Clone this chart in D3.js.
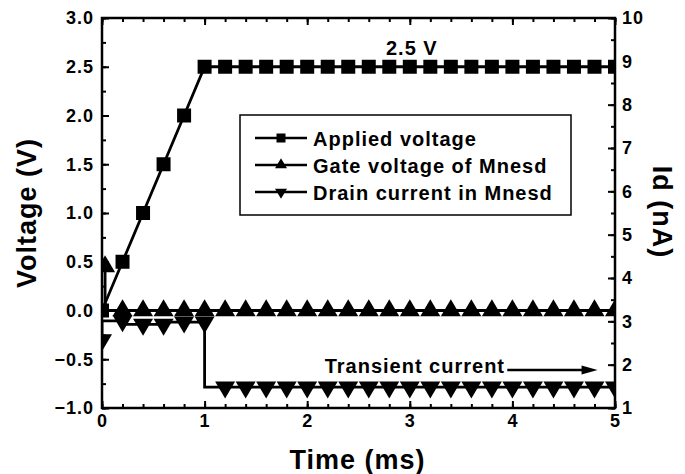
<!DOCTYPE html>
<html>
<head>
<meta charset="utf-8">
<script src="https://cdn.jsdelivr.net/npm/d3@7"></script>
<style>
  body { margin: 0; background: #fff; }
  text { font-family: "Liberation Sans", Arial, sans-serif; font-weight: bold; fill: #000; }
</style>
</head>
<body>
<div id="chart"></div>
<script>
// data
var appliedT = [0, 0.2, 0.4, 0.6, 0.8, 1.0, 1.2, 1.4, 1.6, 1.8, 2.0, 2.2, 2.4, 2.6, 2.8, 3.0, 3.2, 3.4, 3.6, 3.8, 4.0, 4.2, 4.4, 4.6, 4.8, 5.0];
var appliedV = [0, 0.5, 1.0, 1.5, 2.0, 2.5, 2.5, 2.5, 2.5, 2.5, 2.5, 2.5, 2.5, 2.5, 2.5, 2.5, 2.5, 2.5, 2.5, 2.5, 2.5, 2.5, 2.5, 2.5, 2.5, 2.5];

var gateT = [0.03, 0.2, 0.4, 0.6, 0.8, 1.0, 1.2, 1.4, 1.6, 1.8, 2.0, 2.2, 2.4, 2.6, 2.8, 3.0, 3.2, 3.4, 3.6, 3.8, 4.0, 4.2, 4.4, 4.6, 4.8, 5.0];
var gateV = [0.45, 0, 0, 0, 0, 0, 0, 0, 0, 0, 0, 0, 0, 0, 0, 0, 0, 0, 0, 0, 0, 0, 0, 0, 0, 0];

var drainT = [0, 0.2, 0.4, 0.6, 0.8, 1.0, 1.2, 1.4, 1.6, 1.8, 2.0, 2.2, 2.4, 2.6, 2.8, 3.0, 3.2, 3.4, 3.6, 3.8, 4.0, 4.2, 4.4, 4.6, 4.8, 5.0];
var drainI = [2.57, 3.01, 2.93, 2.93, 2.98, 2.98, 1.48, 1.48, 1.48, 1.48, 1.48, 1.48, 1.48, 1.48, 1.48, 1.48, 1.48, 1.48, 1.48, 1.48, 1.48, 1.48, 1.48, 1.48, 1.48, 1.48];

var xTicks = [0, 1, 2, 3, 4, 5];
var yLeftTicks = [-1.0, -0.5, 0.0, 0.5, 1.0, 1.5, 2.0, 2.5, 3.0];
var yRightTicks = [1, 2, 3, 4, 5, 6, 7, 8, 9, 10];
var legendNames = ["Applied voltage", "Gate voltage of Mnesd", "Drain current in Mnesd"];

var W = 685, H = 474;
var pLeft = 102, pRight = 615, pTop = 18, pBottom = 408;

var svg = d3.select("#chart").append("svg")
    .attr("width", W)
    .attr("height", H);

var x = d3.scaleLinear().domain([0, 5]).range([pLeft, pRight]);
var yL = d3.scaleLinear().domain([-1, 3]).range([pBottom, pTop]);
var yR = d3.scaleLinear().domain([1, 10]).range([pBottom, pTop]);

// marker shapes
function square(s) { return "M" + (-s/2) + "," + (-s/2) + "h" + s + "v" + s + "h" + (-s) + "Z"; }
function triUp(w, h) { return "M0," + (-2*h/3) + "L" + (w/2) + "," + (h/3) + "L" + (-w/2) + "," + (h/3) + "Z"; }
function triDown(w, h) { return "M0," + (2*h/3) + "L" + (w/2) + "," + (-h/3) + "L" + (-w/2) + "," + (-h/3) + "Z"; }

// AXES (ticks pointing inward)
function styleAxis(g) {
  g.select(".domain").remove();
  g.attr("font-family", null).attr("font-size", null);
  g.selectAll("line").attr("stroke", "#000").attr("stroke-width", 2);
  g.selectAll("text").style("font-size", "18px").style("letter-spacing", "1px");
}
var minorX = d3.range(0, 5.001, 0.2);
var minorL = d3.range(-1, 3.001, 0.25);
var minorR = d3.range(1, 10.001, 0.5);

svg.append("g").attr("transform", "translate(0," + pBottom + ")")
  .call(d3.axisBottom(x).tickValues(minorX).tickSize(-4).tickFormat(""))
  .call(styleAxis);
svg.append("g").attr("transform", "translate(0," + pBottom + ")")
  .call(d3.axisBottom(x).tickValues(xTicks).tickSize(-7).tickPadding(6).tickFormat(d3.format("d")))
  .call(styleAxis);
svg.append("g").attr("transform", "translate(0," + pTop + ")")
  .call(d3.axisTop(x).tickValues(minorX).tickSize(-4).tickFormat(""))
  .call(styleAxis);
svg.append("g").attr("transform", "translate(0," + pTop + ")")
  .call(d3.axisTop(x).tickValues(xTicks).tickSize(-7).tickFormat(""))
  .call(styleAxis);

svg.append("g").attr("transform", "translate(" + pLeft + ",0)")
  .call(d3.axisLeft(yL).tickValues(minorL).tickSize(-4).tickFormat(""))
  .call(styleAxis);
svg.append("g").attr("transform", "translate(" + pLeft + ",0)")
  .call(d3.axisLeft(yL).tickValues(yLeftTicks).tickSize(-7).tickPadding(8).tickFormat(d3.format(".1f")))
  .call(styleAxis);

svg.append("g").attr("transform", "translate(" + pRight + ",0)")
  .call(d3.axisRight(yR).tickValues(minorR).tickSize(-4).tickFormat(""))
  .call(styleAxis);
svg.append("g").attr("transform", "translate(" + pRight + ",0)")
  .call(d3.axisRight(yR).tickValues(yRightTicks).tickSize(-7).tickPadding(7).tickFormat(d3.format("d")))
  .call(styleAxis);

// frame
svg.append("rect")
  .attr("x", pLeft).attr("y", pTop)
  .attr("width", pRight - pLeft).attr("height", pBottom - pTop)
  .attr("fill", "none").attr("stroke", "#000").attr("stroke-width", 2.5);

// axis titles
svg.append("text")
  .attr("x", (pLeft + pRight) / 2 - 1).attr("y", 469)
  .attr("text-anchor", "middle")
  .style("font-size", "27px").style("letter-spacing", "1px")
  .text("Time (ms)");
svg.append("text")
  .attr("transform", "translate(36,213) rotate(-90)")
  .attr("text-anchor", "middle")
  .style("font-size", "27px").style("letter-spacing", "1px")
  .text("Voltage (V)");
svg.append("text")
  .attr("transform", "translate(653,212) rotate(90)")
  .attr("text-anchor", "middle")
  .style("font-size", "27px").style("letter-spacing", "1px")
  .text("Id (nA)");

// SERIES
svg.append("clipPath").attr("id", "plot")
  .append("rect").attr("x", pLeft).attr("y", pTop - 10)
  .attr("width", pRight - pLeft).attr("height", pBottom - pTop + 10);

var plot = svg.append("g").attr("clip-path", "url(#plot)");

var applied = appliedT.map(function(t, i) { return [t, appliedV[i]]; });
var gate = gateT.map(function(t, i) { return [t, gateV[i]]; });
var drain = drainT.map(function(t, i) { return [t, drainI[i]]; });

plot.append("path").datum(applied)
  .attr("d", d3.line().x(function(d) { return x(d[0]); }).y(function(d) { return yL(d[1]); }))
  .attr("fill", "none").attr("stroke", "#000").attr("stroke-width", 2.8);
plot.selectAll(".sq").data(applied).enter().append("path")
  .attr("transform", function(d) { return "translate(" + x(d[0]) + "," + yL(d[1]) + ")"; })
  .attr("d", square(14));

plot.append("path").datum(gate)
  .attr("d", d3.line().curve(d3.curveStepBefore).x(function(d) { return x(d[0]); }).y(function(d) { return yL(d[1]); }))
  .attr("fill", "none").attr("stroke", "#000").attr("stroke-width", 2.8);
plot.selectAll(".tu").data(gate).enter().append("path")
  .attr("transform", function(d) { return "translate(" + x(d[0]) + "," + yL(d[1]) + ")"; })
  .attr("d", triUp(20, 17));

plot.append("path").datum(drain)
  .attr("d", d3.line().curve(d3.curveStepBefore).x(function(d) { return x(d[0]); }).y(function(d) { return yR(d[1]); }))
  .attr("fill", "none").attr("stroke", "#000").attr("stroke-width", 2.8);
plot.selectAll(".td").data(drain).enter().append("path")
  .attr("transform", function(d) { return "translate(" + x(d[0]) + "," + yR(d[1]) + ")"; })
  .attr("d", triDown(20, 17));

// annotations
svg.append("text")
  .attr("x", x(3.02)).attr("y", yL(2.62))
  .attr("text-anchor", "middle")
  .style("font-size", "20px").style("letter-spacing", "1px")
  .text("2.5 V");
svg.append("text")
  .attr("x", x(2.17)).attr("y", yL(-0.64))
  .style("font-size", "20px").style("letter-spacing", "1px")
  .text("Transient current");
svg.append("line")
  .attr("x1", x(3.95)).attr("x2", x(4.72))
  .attr("y1", yL(-0.61)).attr("y2", yL(-0.61))
  .attr("stroke", "#000").attr("stroke-width", 2.5);
svg.append("path")
  .attr("transform", "translate(" + x(4.83) + "," + yL(-0.61) + ")")
  .attr("d", "M0,0L-16,-4.5L-16,4.5Z");

// LEGEND
var lg = svg.append("g").attr("transform", "translate(240,115)");
lg.append("rect").attr("width", 331).attr("height", 100)
  .attr("fill", "#fff").attr("stroke", "#000").attr("stroke-width", 1.5);
var legShapes = [square(9), triUp(12, 10), triDown(12, 10)];
legendNames.forEach(function(name, i) {
  var cy = 23 + i * 27;
  lg.append("line").attr("x1", 15).attr("x2", 67).attr("y1", cy).attr("y2", cy)
    .attr("stroke", "#000").attr("stroke-width", 2.5);
  lg.append("path").attr("transform", "translate(41," + cy + ")").attr("d", legShapes[i]);
  lg.append("text").attr("x", 73).attr("y", cy + 8)
    .style("font-size", "20px").style("letter-spacing", "1px")
    .text(name);
});
</script>
</body>
</html>
